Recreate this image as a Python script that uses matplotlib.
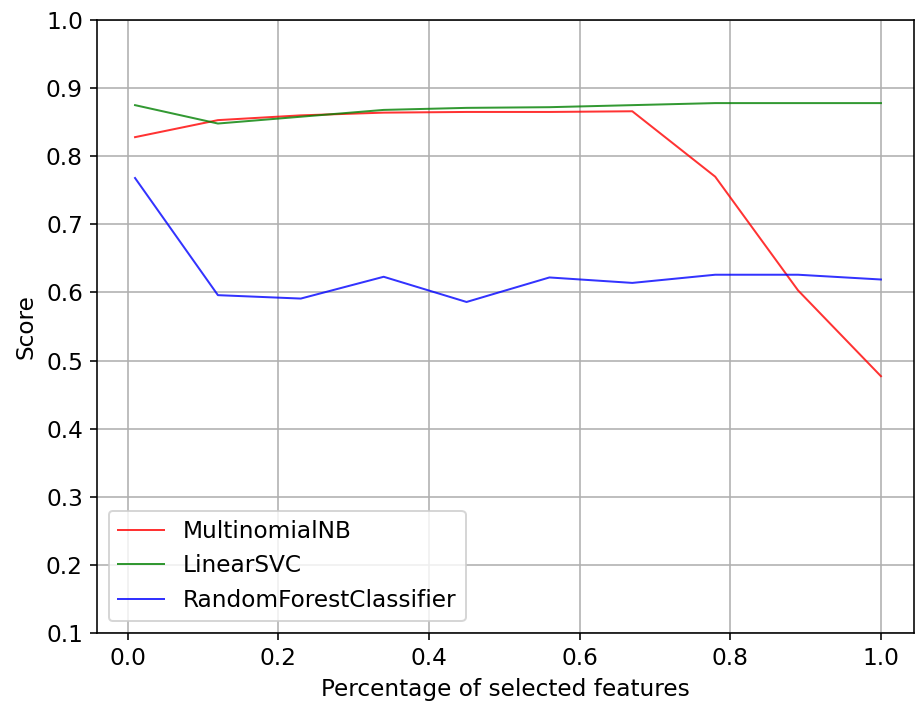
import numpy as np
import matplotlib
matplotlib.use("Agg")
import matplotlib.pyplot as plt

# fraction of features kept
percentages = [0.01, 0.12, 0.23, 0.34, 0.45, 0.56, 0.67, 0.78, 0.89, 1.0]

nb_scores = [0.828, 0.853, 0.860, 0.864, 0.865, 0.865, 0.866, 0.770, 0.603, 0.477]
svc_scores = [0.875, 0.848, 0.858, 0.868, 0.871, 0.872, 0.875, 0.878, 0.878, 0.878]
rf_scores = [0.768, 0.596, 0.591, 0.623, 0.586, 0.622, 0.614, 0.626, 0.626, 0.619]

plt.rcParams["font.size"] = 11.6

fig = plt.figure(figsize=(915 / 144, 707 / 144), dpi=144)
ax = fig.add_axes([0.106, 0.1047, 0.893, 0.867])

ax.plot(percentages, nb_scores, c="r", lw=1.0, alpha=0.8, label="MultinomialNB")
ax.plot(percentages, svc_scores, c="g", lw=1.0, alpha=0.8, label="LinearSVC")
ax.plot(percentages, rf_scores, c="b", lw=1.0, alpha=0.8, label="RandomForestClassifier")

ax.set_ylim(0.1, 1.0)
ax.set_xlim(-0.0405, 1.044)
ax.set_xlabel("Percentage of selected features")
ax.set_ylabel("Score")
ax.grid(True)
ax.legend(loc=3)

fig.savefig("out.png", dpi=144)
